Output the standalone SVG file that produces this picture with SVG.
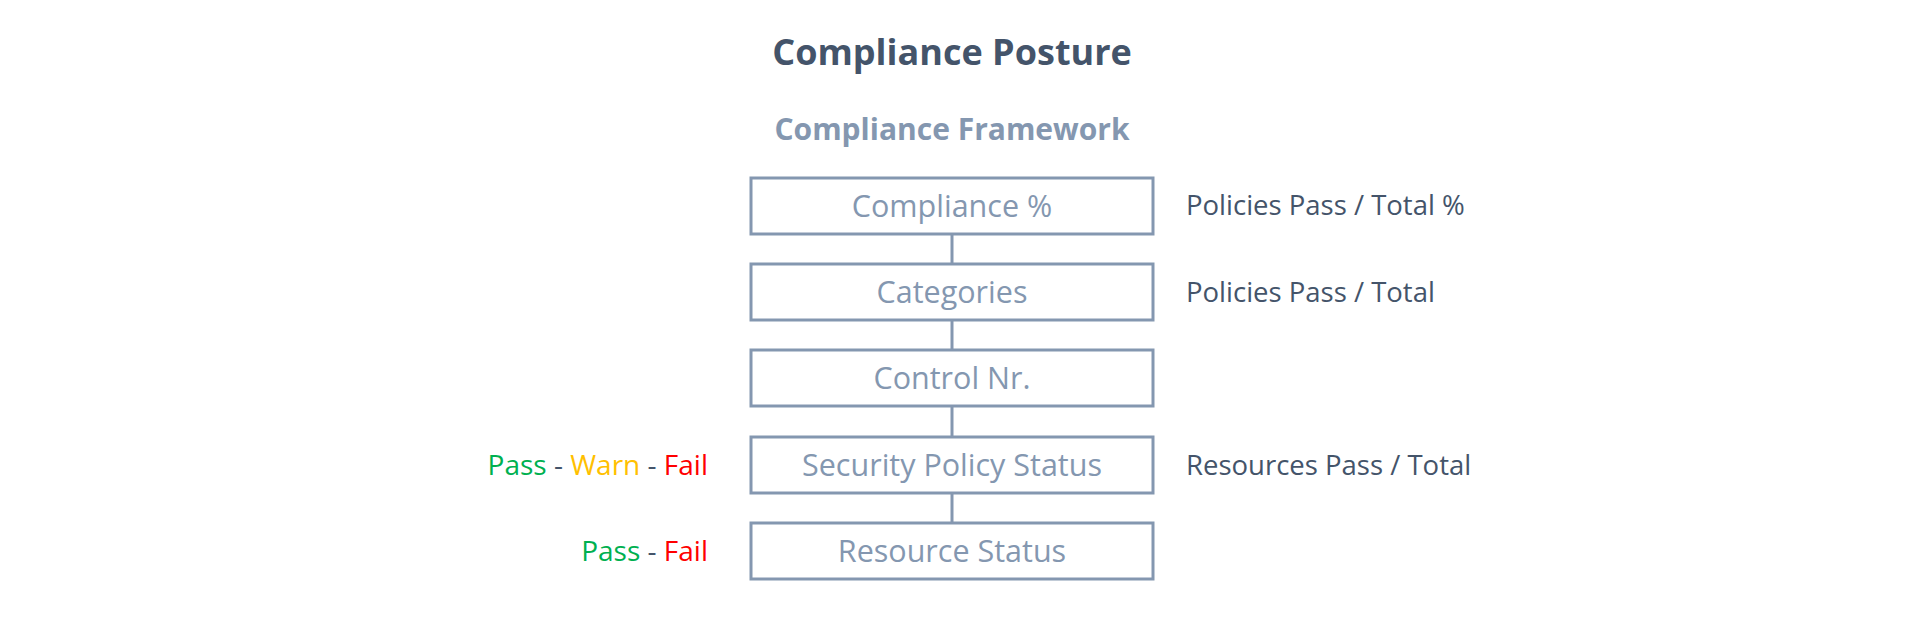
<svg xmlns="http://www.w3.org/2000/svg" width="1908" height="622" viewBox="0 0 1908 622">
<style>
text{font-family:"Open Sans","Noto Sans","DejaVu Sans",sans-serif}
.title{font-size:36px;font-weight:700;fill:#44546a;text-anchor:middle}
.sub{font-size:30px;font-weight:700;fill:#8497b0;text-anchor:middle}
.box{fill:#fff;stroke:#8497b0;stroke-width:3}
.bt{font-size:30.5px;fill:#8497b0;text-anchor:middle}
.rt{font-size:27.5px;fill:#44546a}
.lt{font-size:28px;text-anchor:end}
.conn{stroke:#8497b0;stroke-width:3;fill:none}
.g{fill:#00b050}.y{fill:#ffc000}.r{fill:#ff0000}.d{fill:#44546a}
</style>
<rect width="1908" height="622" fill="#fff"/>
<text class="title" x="952" y="65">Compliance Posture</text>
<text class="sub" x="952" y="140">Compliance Framework</text>
<g id="connectors">
<line class="conn" x1="952" y1="234" x2="952" y2="264"/>
<line class="conn" x1="952" y1="320" x2="952" y2="350"/>
<line class="conn" x1="952" y1="406" x2="952" y2="437"/>
<line class="conn" x1="952" y1="493" x2="952" y2="523"/>
</g>
<g id="node-compliance">
<rect class="box" x="751" y="178" width="402" height="56"/>
<text class="bt" x="952" y="217">Compliance %</text>
</g>
<g id="node-categories">
<rect class="box" x="751" y="264" width="402" height="56"/>
<text class="bt" x="952" y="303">Categories</text>
</g>
<g id="node-control">
<rect class="box" x="751" y="350" width="402" height="56"/>
<text class="bt" x="952" y="389">Control Nr.</text>
</g>
<g id="node-policy">
<rect class="box" x="751" y="437" width="402" height="56"/>
<text class="bt" x="952" y="476">Security Policy Status</text>
</g>
<g id="node-resource">
<rect class="box" x="751" y="523" width="402" height="56"/>
<text class="bt" x="952" y="562">Resource Status</text>
</g>
<g id="right-labels">
<text class="rt" x="1186" y="215">Policies Pass / Total %</text>
<text class="rt" x="1186" y="302">Policies Pass / Total</text>
<text class="rt" x="1186" y="475">Resources Pass / Total</text>
</g>
<g id="left-labels">
<text class="lt" x="708" y="475"><tspan class="g">Pass</tspan><tspan class="d"> - </tspan><tspan class="y">Warn</tspan><tspan class="d"> - </tspan><tspan class="r">Fail</tspan></text>
<text class="lt" x="708" y="561"><tspan class="g">Pass</tspan><tspan class="d"> - </tspan><tspan class="r">Fail</tspan></text>
</g>
</svg>
